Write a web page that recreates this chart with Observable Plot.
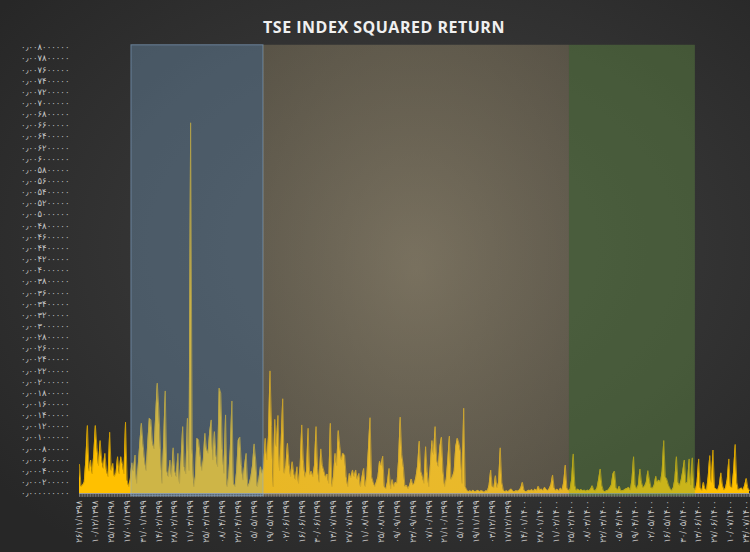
<!DOCTYPE html>
<html><head><meta charset="utf-8">
<script src="https://cdn.jsdelivr.net/npm/d3@7"></script>
<script src="https://cdn.jsdelivr.net/npm/@observablehq/plot@0.6"></script>
<style>
html,body{margin:0;padding:0;}
body{width:750px;height:552px;overflow:hidden;position:relative;
 background:radial-gradient(ellipse 70% 70% at 55% 45%, #3e3e3e 0%, #333333 55%, #272727 100%);
 font-family:"Open Sans",sans-serif;}
#title{position:absolute;top:16px;left:0;width:768px;text-align:center;color:#f0f0f0;font-weight:700;font-size:16px;letter-spacing:0.5px;}
#chart{position:absolute;top:0;left:0;}
</style></head><body>
<div id="title">TSE INDEX SQUARED RETURN</div>
<div id="chart"></div>
<script>
// Daily squared return of the TSE index, in units of 1e-4
const squaredReturnE4 = [
5.2,1.2,1.5,2.0,6.0,12.2,4.0,6.0,3.5,7.0,
12.2,8.3,5.0,9.5,6.0,4.5,7.2,4.1,3.0,11.0,
4.1,5.4,3.0,3.6,6.6,3.5,6.6,5.4,3.5,12.8,
2.4,1.2,2.5,5.5,4.0,6.9,1.8,5.0,9.0,12.6,
9.0,6.0,4.1,9.0,13.5,13.2,9.0,8.0,14.0,19.8,
15.0,8.0,1.8,9.0,18.4,4.1,3.0,6.0,3.0,8.2,
4.1,3.0,7.2,1.8,6.0,12.0,4.8,3.5,13.5,4.1,
66.5,8.0,1.2,3.0,9.9,9.6,7.0,4.1,6.0,10.8,
8.0,7.2,11.0,13.2,6.0,11.1,7.0,4.8,18.9,18.0,
8.0,3.6,14.1,1.2,3.0,8.0,16.6,1.8,1.2,4.0,
9.5,10.1,5.0,2.4,5.0,7.2,1.2,1.8,3.0,5.0,
8.9,6.0,1.2,2.5,4.8,3.6,4.5,9.9,6.0,10.0,
22.0,12.0,1.2,13.3,8.4,14.0,4.1,9.0,17.0,3.6,
5.0,9.0,5.4,3.0,5.7,3.6,2.5,4.8,1.8,5.0,
12.3,6.0,2.9,4.0,11.7,3.3,4.0,3.0,5.0,12.0,
4.5,2.0,8.0,5.0,4.0,2.9,3.5,1.8,12.6,1.2,
3.0,7.2,5.0,11.3,8.4,6.0,7.2,6.8,3.0,1.2,
3.6,2.8,4.2,3.0,4.2,2.5,3.6,1.2,3.0,4.5,
1.2,3.0,8.0,13.6,3.0,2.0,1.2,2.0,3.0,5.8,
5.0,6.7,1.2,0.8,2.0,4.5,0.8,2.5,1.2,2.0,
1.8,6.0,13.7,7.0,4.8,1.2,1.5,0.8,1.5,
2.6,1.5,1.8,3.0,5.0,9.4,4.0,3.0,1.8,8.4,
4.0,1.2,5.0,9.5,7.0,12.0,6.0,4.8,8.4,10.1,
4.0,1.2,2.5,6.0,10.3,2.5,3.0,4.0,8.4,9.9,
9.0,7.5,1.8,15.3,1.2,0.6,0.3,0.5,0.3,0.6,
0.3,0.4,0.6,0.3,0.5,0.4,0.2,0.5,0.4,1.5,
4.2,1.2,1.0,3.2,1.0,2.0,8.2,2.0,0.6,0.3,
0.5,0.3,0.6,0.8,0.4,0.3,0.5,0.4,0.6,1.0,
2.0,0.6,0.3,0.4,0.6,0.5,0.7,0.4,0.8,0.5,
1.3,0.6,0.8,0.5,1.1,0.7,0.5,0.9,1.6,3.3,
1.0,0.5,0.8,0.4,1.0,0.6,2.0,5.1,1.0,0.5,
0.7,2.5,7.1,1.5,0.5,0.8,0.5,0.7,0.5,0.6,
0.4,0.6,0.5,0.8,1.4,0.6,0.5,1.0,2.5,4.4,
1.5,0.5,0.3,0.5,0.6,1.0,1.5,3.5,4.0,1.0,
0.6,1.3,0.5,
0.5,0.6,0.8,0.9,1.1,0.6,
2.5,6.6,1.5,0.8,1.5,4.4,2.0,1.0,1.3,2.0,
4.1,2.5,1.0,0.9,1.5,3.1,2.0,2.4,2.0,4.0,
9.5,3.0,2.5,1.5,0.9,0.5,1.0,2.5,6.6,2.0,
1.4,2.4,4.0,6.0,1.8,2.0,6.2,1.5,6.4,1.0,
0.6,2.0,6.2,1.0,0.5,2.0,0.8,0.6,3.0,6.8,
2.0,7.8,1.0,0.8,0.6,1.5,3.7,1.5,0.6,1.0,
2.5,6.2,1.2,1.0,4.0,8.8,2.0,0.6,0.8,1.0,
0.6,1.5,2.7,1.0,0.5
];

// Date labels (Solar Hijri), one every 10 trading days
const dateLabels = [
"۲۶/۱۱/۱۳۹۸","۱۰/۱۲/۱۳۹۸","۲۵/۱۲/۱۳۹۸","۱۷/۰۱/۱۳۹۹","۳۱/۰۱/۱۳۹۹","۱۴/۰۲/۱۳۹۹",
"۲۸/۰۲/۱۳۹۹","۱۱/۰۳/۱۳۹۹","۲۵/۰۳/۱۳۹۹","۰۸/۰۴/۱۳۹۹","۲۲/۰۴/۱۳۹۹","۰۵/۰۵/۱۳۹۹",
"۱۹/۰۵/۱۳۹۹","۰۲/۰۶/۱۳۹۹","۱۶/۰۶/۱۳۹۹","۳۰/۰۶/۱۳۹۹","۱۳/۰۷/۱۳۹۹","۲۷/۰۷/۱۳۹۹",
"۱۱/۰۸/۱۳۹۹","۲۵/۰۸/۱۳۹۹","۰۹/۰۹/۱۳۹۹","۲۳/۰۹/۱۳۹۹","۰۷/۱۰/۱۳۹۹","۲۱/۱۰/۱۳۹۹",
"۰۵/۱۱/۱۳۹۹","۱۹/۱۱/۱۳۹۹","۰۳/۱۲/۱۳۹۹","۱۷/۱۲/۱۳۹۹","۱۴/۰۱/۱۴۰۰","۲۸/۰۱/۱۴۰۰",
"۱۱/۰۲/۱۴۰۰","۲۵/۰۲/۱۴۰۰","۰۸/۰۳/۱۴۰۰","۲۲/۰۳/۱۴۰۰","۰۵/۰۴/۱۴۰۰","۱۹/۰۴/۱۴۰۰",
"۰۲/۰۵/۱۴۰۰","۱۶/۰۵/۱۴۰۰","۳۰/۰۵/۱۴۰۰","۱۳/۰۶/۱۴۰۰","۲۷/۰۶/۱۴۰۰","۱۰/۰۷/۱۴۰۰",
"۲۴/۰۷/۱۴۰۰"
];
const labelStep = 10;

// Y axis tick values
const yTickValues = [0,0.0002,0.0004,0.0006,0.0008,0.001,0.0012,0.0014,0.0016,0.0018,0.002,
 0.0022,0.0024,0.0026,0.0028,0.003,0.0032,0.0034,0.0036,0.0038,0.004,0.0042,0.0044,0.0046,
 0.0048,0.005,0.0052,0.0054,0.0056,0.0058,0.006,0.0062,0.0064,0.0066,0.0068,0.007,0.0072,
 0.0074,0.0076,0.0078,0.008];

// Highlighted periods (trading-day index ranges)
const periodNames = ["p1","p2","p3"];
const periodStart = [32.7, 115.9, 308.6];
const periodEnd   = [115.9, 308.6, 387.9];

const faDigits = "۰۱۲۳۴۵۶۷۸۹";
const toFa = s => s.replace(/\d/g, d => faDigits[+d]).replace(".", "٫");

const data = squaredReturnE4.map((v, i) => ({i, v: v * 1e-4}));
const N = data.length;
const idx = d3.range(N);
const labelIdx = dateLabels.map((_, k) => k * labelStep);
const periods = periodNames.map((n, k) => ({name: n, x1: periodStart[k], x2: periodEnd[k]}));
const pStyle = {
  p1: {fill: "rgba(120,160,198,0.36)", stroke: "rgba(140,178,215,0.55)"},
  p2: {fill: "url(#tanGrad)", stroke: "none"},
  p3: {fill: "rgba(108,160,72,0.36)", stroke: "none"}
};

const chart = Plot.plot({
  width: 750, height: 552,
  marginTop: 47, marginBottom: 59, marginLeft: 79, marginRight: 1,
  style: {background: "transparent", color: "#c8c8c8", fontFamily: "'DejaVu Sans', sans-serif"},
  x: {type: "linear", domain: [0, N - 1], axis: null, label: null},
  y: {domain: [0, 0.008], axis: null, label: null},
  marks: [
    Plot.areaY(data, {x: "i", y: "v", fill: "#FFC000"}),
    Plot.lineY(data, {x: "i", y: "v", stroke: "#d9a400", strokeWidth: 0.8}),
    Plot.ruleX(idx, {x: d => d, y1: 0, y2: -0.00007, stroke: "#a8a8a8", strokeWidth: 0.6}),
    Plot.ruleY([0], {stroke: "#9a9a9a", strokeWidth: 1}),
    ...periods.map(p => Plot.rect([p], {x1: "x1", x2: "x2", y1: -0.00005, y2: 0.00804,
        fill: "#888", className: "period-" + p.name})),
    Plot.axisX(labelIdx, {tickSize: 0, tickPadding: 7, tickRotate: -90, label: null,
        tickFormat: i => dateLabels[i / labelStep], fontSize: 8.5, fill: "#c8c8c8"}),
    Plot.axisY(yTickValues, {tickSize: 0, tickPadding: 10, label: null,
        tickFormat: v => toFa(v.toFixed(9)), fontSize: 8.5, fill: "#c4c4c4"})
  ]
});

const svg = d3.select(chart);
const defs = svg.insert("defs", ":first-child");
const g = defs.append("radialGradient").attr("id", "tanGrad")
  .attr("cx", "0.5").attr("cy", "0.5").attr("r", "0.7");
g.append("stop").attr("offset", "0%").attr("stop-color", "rgb(210,190,145)").attr("stop-opacity", 0.40);
g.append("stop").attr("offset", "100%").attr("stop-color", "rgb(180,162,120)").attr("stop-opacity", 0.30);
for (const p of periods) {
  const sel = svg.selectAll(`.period-${p.name}, .period-${p.name} rect`);
  sel.attr("fill", pStyle[p.name].fill)
     .attr("stroke", pStyle[p.name].stroke)
     .attr("stroke-width", 1);
}
document.getElementById("chart").appendChild(chart);
</script>
</body></html>
